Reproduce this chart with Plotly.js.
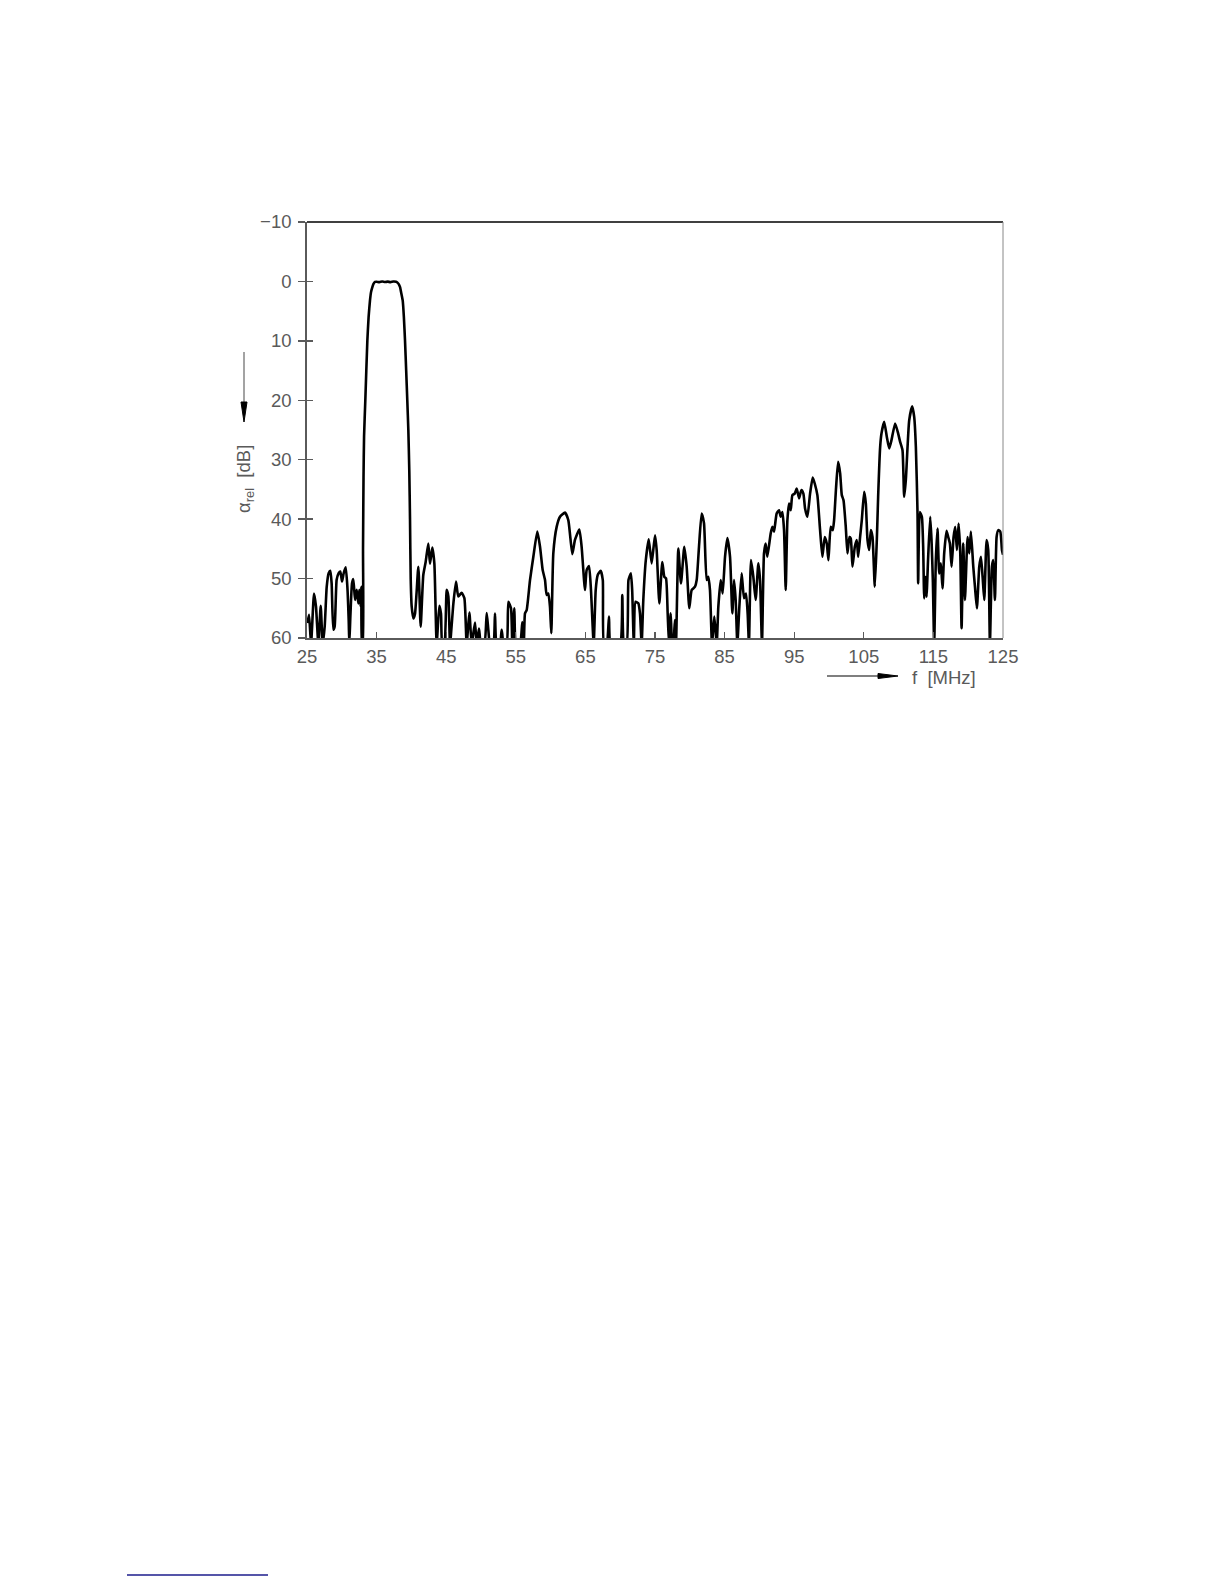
<!DOCTYPE html>
<html>
<head>
<meta charset="utf-8">
<script src="https://cdn.plot.ly/plotly-3.0.1.min.js"></script>
<style>html,body{margin:0;padding:0;background:#fff;}</style>
</head>
<body>
<div id="chart" style="width:1224px;height:1584px;"></div>
<script>
// Frequency in MHz
var freqMHz = [
 25.05,25.29,25.58,26.01,26.29,26.63,26.97,27.25,27.54,27.83,28.11,28.35,28.54,28.78,28.97,29.26,29.55,29.79,30.03,30.27,30.56,30.8,30.99,31.08,31.23,31.47,31.66,31.9,32.14,32.38,32.52,32.71,32.81,32.9,
 33.0,33.05,33.12,33.2,33.38,33.67,33.85,34.05,34.2,34.39,34.55,34.77,35.0,35.4,35.8,36.2,36.6,37.0,37.4,37.8,38.0,38.2,38.37,38.55,38.75,38.92,39.08,39.25,39.41,39.56,39.7,39.8,39.9,
 40.04,40.28,40.52,41.0,41.33,41.71,42.05,42.43,42.67,43.01,43.3,43.63,44.01,44.25,44.44,44.73,45.07,45.31,45.55,46.03,46.41,46.74,47.22,47.61,47.94,48.33,48.66,49.14,49.38,49.71,50.0,50.48,50.82,51.06,51.3,51.77,52.01,52.25,52.73,52.97,53.26,53.69,53.93,54.31,54.5,54.79,55.03,55.6,55.94,
 56.15,56.32,56.56,57.04,57.52,58.09,58.48,58.86,59.2,59.43,59.67,59.91,60.1,60.39,60.87,61.35,62.07,62.55,63.12,63.5,64.13,64.46,64.94,65.18,65.52,65.8,66.19,66.48,66.77,67.2,67.5,67.67,68.06,68.39,68.63,69.97,70.3,70.55,70.93,71.19,71.53,71.72,71.96,72.2,72.6,72.84,73.08,73.32,73.68,74.1,
 74.52,75.0,75.24,75.62,76.05,76.34,76.58,76.82,77.01,77.25,77.44,77.63,77.87,78.02,78.35,78.73,79.21,79.55,79.93,80.27,80.75,80.99,81.32,81.7,82.04,82.42,82.66,82.9,83.19,83.52,83.86,84.1,84.44,84.72,85.06,85.4,85.78,86.11,86.35,86.59,86.83,87.12,87.45,87.79,88.07,88.31,88.5,88.79,89.13,89.46,89.85,90.09,90.37,90.66,90.9,91.14,
 91.62,91.86,92.1,92.48,92.82,93.06,93.3,93.54,93.78,94.02,94.26,94.5,94.74,95.07,95.36,95.7,96.03,96.32,96.56,96.9,97.28,97.66,97.95,98.33,98.72,99.05,99.39,99.68,99.92,100.25,100.54,100.73,101.02,101.31,101.6,101.84,102.08,102.41,102.65,102.94,103.13,103.37,103.71,103.99,104.19,104.47,104.71,105.05,105.29,105.53,105.77,106.01,106.25,106.58,106.87,107.06,107.35,107.54,107.93,108.31,108.65,108.98,109.5,109.94,
 110.22,110.56,110.8,111.04,111.52,111.95,112.24,112.48,112.72,112.81,113.05,113.34,113.53,113.68,113.87,114.01,114.25,114.54,114.73,114.92,115.11,115.35,115.59,115.83,116.07,116.31,116.55,116.89,117.13,117.37,117.61,117.9,118.14,118.38,118.62,118.86,119.05,119.29,119.53,119.91,120.15,120.39,120.73,120.97,121.25,121.59,121.83,122.07,122.31,122.64,122.88,123.12,123.41,123.6,123.84,124.08,124.32,124.61,124.85,125.0
];
// Relative attenuation in dB
var attenDb = [
 57.5,56.1,61,52.5,54.7,61,54.6,61,58.1,51.4,49.1,48.7,50.8,58.6,58.1,50.2,49.1,48.8,50.5,49.1,48.1,51.4,57,61,56.4,50.8,50.1,53.6,51.9,54.2,51.9,54.7,51.4,61,
 61,45,33,26,20,10,6,3.2,1.8,0.95,0.4,0.08,0.05,0.12,0.02,0.1,0.04,0.12,0.02,0.06,0.2,0.5,0.95,2.0,3.2,6,9.9,15,20,25,32,40,50,
 54.7,56.7,55.9,48.0,58.1,49.4,47.2,44.1,47.5,44.8,47.5,61,54.6,55.9,61,61,51.9,53,61,54.2,50.5,53,52.4,53.3,61,55.7,61,57.4,61,58.4,61,61,55.8,58.7,61,61,55.9,61,61,58.6,61,61,53.9,55,61,55,61,61,57.3,
 61,55.85,55.3,50.25,46.33,42.1,44.65,48.57,50.25,52.77,52.5,54.73,59.2,45.77,41.3,39.6,38.9,40.2,45.9,43.5,41.74,44.65,51.93,48.57,47.9,51.93,61,51.93,49.41,48.7,50.25,61,61,56.4,61,61,52.77,61,61,50.25,49.13,51.93,61,53.9,54.17,55.85,61,53.6,46.9,43.4,
 47.45,42.7,45.2,54.17,47.2,49.7,49.97,55.85,61,55.85,60.5,61,56.97,61,44.93,50.8,44.65,48.0,55.0,51.93,51.37,50.25,44.65,39.05,40.7,50.25,49.7,51.93,61,56.4,61,54.73,50.25,52.5,46.33,43.2,46.33,55.85,50.25,53.6,61,54.73,49.13,53.3,52.5,55.85,61,46.9,49.7,53.6,47.45,50.25,61,45.77,44.1,46.33,
 42.4,41.3,42.1,39.05,38.5,39.6,38.8,41.85,51.93,40.2,37.36,38.5,35.96,35.7,34.85,36.5,35.1,35.7,38.2,39.6,35.7,33.0,34.0,35.96,41.85,46.33,43.0,44.1,46.9,41.3,41.85,40.2,34.6,30.37,32.3,35.96,36.8,41.3,45.77,43.0,43.25,48.0,44.65,43.5,46.33,43.0,40.2,35.4,37.36,43.5,45.2,41.85,43.0,51.37,43.5,36.24,27.84,25.6,23.64,26.16,28.1,26.7,23.9,25.6,
 27.0,28.4,36.24,33.4,23.4,21.0,22.8,27.84,39.05,50.8,38.8,39.6,44.65,53.33,49.7,53.05,46.33,39.6,43.5,50.25,61,46.9,41.57,49.13,47.45,51.65,45.77,41.96,43.0,44.1,48.0,43.0,41.3,45.2,40.73,45.77,58.37,44.1,53.6,43.0,45.77,42.1,48.0,51.37,55.0,48.0,46.33,49.7,53.6,43.5,45.2,61,48.0,46.9,53.6,43.0,41.85,42.1,45.2,46
];
var xTickVals = [25,35,45,55,65,75,85,95,105,115,125];
var yTickVals = [-10,0,10,20,30,40,50,60];
var yTitle = "α<sub>rel</sub>  [dB]";
var xTitle = "f  [MHz]";

var gray = '#5a5a5a';
var fnt = {family: 'Liberation Sans, Arial, sans-serif', size: 18.5, color: gray};

var trace = {
  x: freqMHz, y: attenDb, type: 'scatter', mode: 'lines',
  line: {color: '#000', width: 2.6, shape: 'spline', smoothing: 0.5},
  hoverinfo: 'skip', showlegend: false
};
var dummy = {
  x: [25, 125], y: [60, -10], yaxis: 'y2', type: 'scatter', mode: 'lines',
  line: {color: 'rgba(0,0,0,0)', width: 0}, hoverinfo: 'skip', showlegend: false
};

// paper helpers (plot area: 307..1003 x, 222..638 y)
function px(x){ return (x - 307) / 696; }
function py(y){ return (638 - y) / 416; }

var layout = {
  width: 1224, height: 1584,
  paper_bgcolor: '#fff', plot_bgcolor: '#fff',
  margin: {l: 307, r: 221, t: 222, b: 946, pad: 0},
  showlegend: false,
  xaxis: {
    range: [25, 125], tickmode: 'array', tickvals: xTickVals,
    ticks: 'inside', ticklen: 6, tickwidth: 1.3, tickcolor: gray,
    showline: true, linecolor: gray, linewidth: 1.5,
    showgrid: false, zeroline: false, tickfont: fnt, ticklabelstandoff: 1
  },
  yaxis: {
    range: [60, -10], tickmode: 'array', tickvals: yTickVals,
    ticks: 'outside', ticklen: 7, tickwidth: 1.3, tickcolor: gray,
    showline: true, linecolor: gray, linewidth: 1.8,
    showgrid: false, zeroline: false, tickfont: fnt, ticklabelstandoff: 3
  },
  yaxis2: {
    overlaying: 'y', side: 'left', range: [60, -10], tickmode: 'array', tickvals: yTickVals,
    ticks: 'inside', ticklen: 6, tickwidth: 1.3, tickcolor: gray,
    showticklabels: false, showline: false, showgrid: false, zeroline: false
  },
  shapes: [
    {type: 'line', xref: 'paper', yref: 'paper', x0: 0, x1: 1, y0: 1, y1: 1, line: {color: '#000', width: 1.5}},
    {type: 'line', xref: 'paper', yref: 'paper', x0: 1, x1: 1, y0: 0, y1: 1, line: {color: '#888', width: 1}},
    // y arrow
    {type: 'line', xref: 'paper', yref: 'paper', x0: px(244), x1: px(244), y0: py(352), y1: py(404), line: {color: '#666', width: 1.2}},
    {type: 'path', xref: 'paper', yref: 'paper',
     path: 'M ' + px(241) + ' ' + py(402) + ' L ' + px(247) + ' ' + py(402) + ' L ' + px(244) + ' ' + py(422) + ' Z',
     fillcolor: '#000', line: {color: '#000', width: 1}},
    // x arrow
    {type: 'line', xref: 'paper', yref: 'paper', x0: px(827), x1: px(880), y0: py(676), y1: py(676), line: {color: '#000', width: 1.2}},
    {type: 'path', xref: 'paper', yref: 'paper',
     path: 'M ' + px(878) + ' ' + py(673.5) + ' L ' + px(898) + ' ' + py(676) + ' L ' + px(878) + ' ' + py(678.5) + ' Z',
     fillcolor: '#000', line: {color: '#000', width: 1}},
    // footer rule
    {type: 'line', xref: 'paper', yref: 'paper', x0: px(127), x1: px(268), y0: py(1575), y1: py(1575), line: {color: '#1c1c8c', width: 1.5}}
  ],
  annotations: [
    {xref: 'paper', yref: 'paper', x: px(245), y: py(479), text: yTitle, textangle: -90,
     showarrow: false, xanchor: 'center', yanchor: 'middle', font: fnt},
    {xref: 'paper', yref: 'paper', x: px(910), y: py(677), text: xTitle,
     showarrow: false, xanchor: 'left', yanchor: 'middle', font: fnt}
  ]
};

Plotly.newPlot('chart', [trace, dummy], layout, {staticPlot: true, displayModeBar: false});
</script>
</body>
</html>
